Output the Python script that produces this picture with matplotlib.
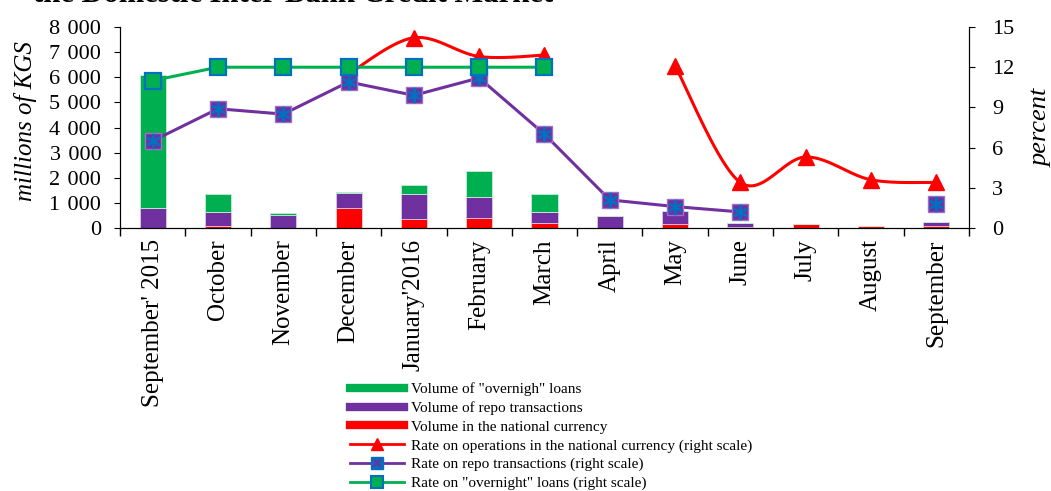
import matplotlib.pyplot as plt
from matplotlib.lines import Line2D
from matplotlib.ticker import FuncFormatter
import numpy as np

plt.rcParams['font.family'] = ['Liberation Serif', 'DejaVu Serif']

months = ["September' 2015", 'October', 'November', 'December', "January'2016",
          'February', 'March', 'April', 'May', 'June', 'July', 'August', 'September']

# volumes, millions of KGS (stacked: national, repo, overnight)
vol_national = [0, 100, 0, 810, 350, 400, 190, 0, 160, 30, 150, 100, 80]
vol_repo = [800, 530, 520, 600, 1010, 850, 460, 470, 520, 160, 0, 0, 170]
vol_overnight = [5300, 740, 80, 10, 340, 1030, 700, 0, 0, 0, 0, 0, 0]

# rates, percent
nan = np.nan
rate_national = [nan, nan, nan, 11.5, 14.2, 12.8, 12.9, nan, 12.1, 3.4, 5.3, 3.6, 3.4]
rate_repo = [6.5, 8.9, 8.5, 10.9, 9.9, 11.2, 7.0, 2.1, 1.6, 1.2, nan, nan, 1.8]
rate_overnight = [11.0, 12, 12, 12, 12, 12, 12, nan, nan, nan, nan, nan, nan]

green = '#00B050'
purple = '#7030A0'
red = '#FF0000'
blue = '#0070C0'


def smooth(xv, yv, n=40):
    # catmull-rom like excel smoothed line
    xv = np.asarray(xv, float)
    yv = np.asarray(yv, float)
    px, py = [], []
    m = len(xv)
    for i in range(m - 1):
        p0 = np.array([xv[max(i - 1, 0)], yv[max(i - 1, 0)]])
        p1 = np.array([xv[i], yv[i]])
        p2 = np.array([xv[i + 1], yv[i + 1]])
        p3 = np.array([xv[min(i + 2, m - 1)], yv[min(i + 2, m - 1)]])
        c1 = p1 + (p2 - p0) / 6
        c2 = p2 - (p3 - p1) / 6
        t = np.linspace(0, 1, n)[:, None]
        b = (1 - t) ** 3 * p1 + 3 * (1 - t) ** 2 * t * c1 + 3 * (1 - t) * t ** 2 * c2 + t ** 3 * p2
        px.extend(b[:, 0])
        py.extend(b[:, 1])
    return px, py


x = np.arange(len(months))
fig = plt.figure(figsize=(10.51, 4.91), dpi=100)
ax = fig.add_axes([0.1142, 0.5356, 0.8077, 0.4094])

w = 0.4
b1 = np.array(vol_national)
b2 = b1 + np.array(vol_repo)
ax.bar(x, vol_national, w, color=red, edgecolor='#ffd0d0', linewidth=0.6, zorder=2)
ax.bar(x, vol_repo, w, bottom=b1, color=purple, edgecolor='#d8c8e8', linewidth=0.6, zorder=2)
ax.bar(x, vol_overnight, w, bottom=b2, color=green, edgecolor='#c8ecd8', linewidth=0.6, zorder=2)

ax.set_xlim(-0.5, len(months) - 0.5)
ax.set_ylim(0, 8000)
ax.set_yticks(range(0, 8001, 1000))
ax.yaxis.set_major_formatter(FuncFormatter(lambda v, p: f'{int(v):,}'.replace(',', '\u2004')))
ax.set_xticks(x)
ax.set_xticklabels(months, rotation=90, fontsize=18)
ax.set_xticks(np.arange(-0.5, len(months)), minor=True)
ax.tick_params(axis='x', which='major', length=0, pad=8)
ax.tick_params(axis='x', which='minor', length=6, width=1, direction='out')
ax.tick_params(axis='y', labelsize=16, length=4.5, pad=9, direction='out')
ax.spines['top'].set_visible(False)
ax.set_ylabel('millions of KGS', fontsize=18, style='italic')
ax.yaxis.set_label_coords(-0.098, 0.532)

ax2 = ax.twinx()
ax2.set_ylim(0, 15)
ax2.set_yticks(range(0, 16, 3))
ax2.tick_params(axis='y', labelsize=16, length=4.5, pad=12, direction='out')
ax2.spines['top'].set_visible(False)
ax2.set_ylabel('percent', fontsize=19, style='italic', rotation=90, va='center')
ax2.yaxis.set_label_coords(1.085, 0.5)

# national rate: smoothed, broken where no data
rn = np.array(rate_national)
ok = ~np.isnan(rn)
start = None
for i in range(len(rn) + 1):
    if i < len(rn) and ok[i]:
        if start is None:
            start = i
    elif start is not None:
        sx, sy = smooth(x[start:i], rn[start:i])
        ax2.plot(sx, sy, color=red, lw=2.2, zorder=3)
        start = None
ax2.plot(x, rn, ls='none', marker='^', ms=11, color=red, zorder=3)

# repo rate
ax2.plot(x, rate_repo, color=purple, lw=2.2, marker='s', ms=11, mfc=purple,
         mec='#9a70c8', mew=1, zorder=4)
ax2.plot(x, rate_repo, ls='none', marker=(6, 2, 0), ms=11, mec=blue, mew=1.6, zorder=5)

# overnight rate
ax2.plot(x, rate_overnight, color=green, lw=2.2, marker='s', ms=11, mfc=green,
         mec=blue, mew=1.6, zorder=6)

handles = [
    Line2D([], [], color=green, lw=6),
    Line2D([], [], color=purple, lw=6),
    Line2D([], [], color=red, lw=6),
    Line2D([], [], color=red, lw=2, marker='^', ms=8),
    (Line2D([], [], color=purple, lw=2, marker='s', ms=8, mfc=blue, mec=blue),
     Line2D([], [], ls='none', marker='x', ms=6, mec=purple, mew=1.5)),
    Line2D([], [], color=green, lw=2, marker='s', ms=8, mfc=green, mec=blue, mew=1.5),
]
labels = ['Volume of "overnigh" loans', 'Volume of repo transactions',
          'Volume in the national currency',
          'Rate on operations in the national currency (right scale)',
          'Rate on repo transactions (right scale)',
          'Rate on "overnight" loans (right scale)']
fig.legend(handles, labels, loc='upper left', bbox_to_anchor=(0.326, 0.237),
           frameon=False, fontsize=11, handlelength=3.5, labelspacing=0.33,
           borderpad=0, handletextpad=0.45)

# title clipped by the top edge of the image
fig.text(0.031, 1 - 2 / 491, 'the Domestic Inter-Bank Credit Market', fontsize=22,
         fontweight='bold', va='baseline', ha='left')

fig.savefig('out.png', dpi=100)
